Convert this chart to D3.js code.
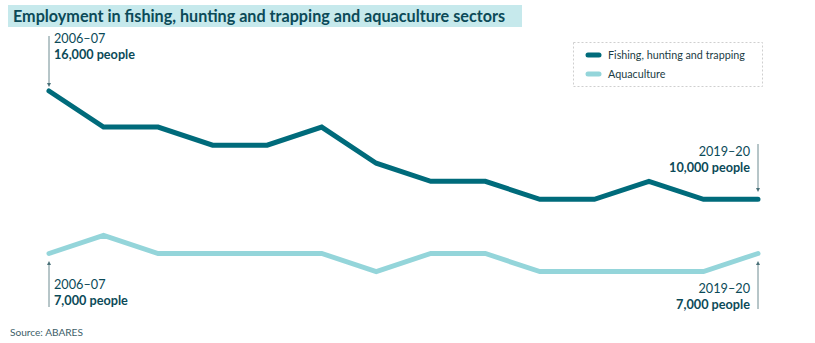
<!DOCTYPE html>
<html><head><meta charset="utf-8">
<script src="https://cdn.jsdelivr.net/npm/d3@7"></script>
<style>
body{margin:0;background:#fff;}
text{font-family:"Lato","Open Sans",sans-serif;}
</style></head>
<body><svg id="c" width="815" height="343"></svg>
<script>
const years = ["2006–07","2007–08","2008–09","2009–10","2010–11","2011–12","2012–13","2013–14","2014–15","2015–16","2016–17","2017–18","2018–19","2019–20"];
const fishing = [16000,14000,14000,13000,13000,14000,12000,11000,11000,10000,10000,11000,10000,10000];
const aquaculture = [7000,8000,7000,7000,7000,7000,6000,7000,7000,6000,6000,6000,6000,7000];
const seriesNames = ["Fishing, hunting and trapping","Aquaculture"];
const colors = ["#006b7b","#94d5da"];

const svg = d3.select("#c");
const textCol = "#0b4a58";

function fit(sel, w){
  const fs = +sel.attr("font-size");
  const len = sel.node().getComputedTextLength();
  if (len>0) sel.attr("font-size", (fs*w/len).toFixed(2));
  return sel;
}

// title
svg.append("rect").attr("x",8).attr("y",5).attr("width",514).attr("height",22).attr("fill","#c6e9ec");
fit(svg.append("text").attr("x",13).attr("y",21.5).attr("font-size",16).attr("font-weight",700)
  .attr("fill",textCol).text("Employment in fishing, hunting and trapping and aquaculture sectors"), 492);

const x = d3.scalePoint().domain(years).range([49,758]);
const y = d3.scaleLinear().domain([7000,16000]).range([253.5,91]);

const line = d3.line().x((d,i)=>x(years[i])).y(d=>y(d));
[fishing,aquaculture].forEach((s,k)=>{
  svg.append("path").attr("d",line(s)).attr("fill","none").attr("stroke",colors[k])
    .attr("stroke-width",5).attr("stroke-linejoin","miter").attr("stroke-linecap","round");
});

// legend
svg.append("rect").attr("x",573.5).attr("y",42.5).attr("width",189).attr("height",44)
  .attr("fill","none").attr("stroke","#cfcfcf").attr("stroke-dasharray","2,2");
let legFs = 12;
seriesNames.forEach((n,i)=>{
  const yy = 55 + i*19;
  svg.append("line").attr("x1",588).attr("x2",599).attr("y1",yy).attr("y2",yy)
    .attr("stroke",colors[i]).attr("stroke-width",5).attr("stroke-linecap","round");
  const t = svg.append("text").attr("x",608).attr("y",yy+4).attr("font-size",legFs).attr("fill","#1a3c44").text(n);
  if (i===0) { fit(t,137); legFs = +t.attr("font-size"); }
});

// annotations
svg.append("defs").append("marker").attr("id","arr").attr("viewBox","0 0 6 6").attr("refX",3).attr("refY",3)
  .attr("markerWidth",4).attr("markerHeight",4).attr("orient","auto")
  .append("path").attr("d","M0,0L6,3L0,6Z").attr("fill","#4a7078");

function annot(i, val, y1, y2, by, anchor, wBold){
  const xx = x(years[i]);
  svg.append("line").attr("x1",xx).attr("x2",xx).attr("y1",y1).attr("y2",y2)
    .attr("stroke","#6e8c92").attr("stroke-width",1).attr("marker-end","url(#arr)");
  const tx = anchor==="start" ? xx+5 : xx-8;
  const b = svg.append("text").attr("x",tx).attr("y",by).attr("text-anchor",anchor).attr("font-size",13)
    .attr("font-weight",700).attr("fill",textCol).text(d3.format(",")(val)+" people");
  fit(b, wBold);
  const fs = +b.attr("font-size");
  const dy = Math.ceil(fs*1.22);
  svg.append("text").attr("x",tx).attr("y",by-dy).attr("text-anchor",anchor).attr("font-size",fs)
    .attr("fill",textCol).text(years[i]);
}
annot(0, fishing[0], 36, 85, 59, "start", 81);
annot(13, fishing[13], 144, 190, 172, "end", 81);
annot(0, aquaculture[0], 307, 263, 305, "start", 74);
annot(13, aquaculture[13], 309, 263, 309, "end", 74);

fit(svg.append("text").attr("x",10).attr("y",336).attr("font-size",11).attr("fill","#3d6068").text("Source: ABARES"), 73);
</script></body></html>
